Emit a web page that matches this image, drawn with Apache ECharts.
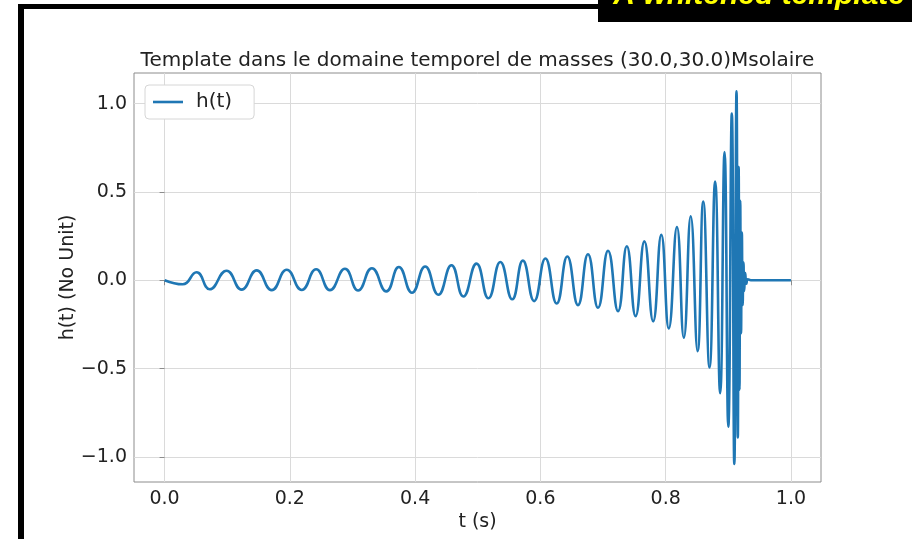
<!DOCTYPE html>
<html>
<head>
<meta charset="utf-8">
<script src="https://cdn.jsdelivr.net/npm/echarts@6/dist/echarts.min.js"></script>
<style>
html,body{margin:0;padding:0;background:#ffffff;}
#chart{width:912px;height:539px;}
</style>
</head>
<body>
<div id="chart"></div>
<script>
// Time (s) of the peaks, troughs and ringdown
const tValues = [0, 0.029, 0.051, 0.072, 0.099, 0.123, 0.147, 0.171, 0.195, 0.219,
  0.242, 0.264, 0.288, 0.309, 0.331, 0.354, 0.374, 0.395, 0.416, 0.437,
  0.458, 0.477, 0.498, 0.517, 0.536, 0.555, 0.572, 0.590, 0.608, 0.626,
  0.643, 0.660, 0.676, 0.692, 0.708, 0.724, 0.738, 0.752, 0.766, 0.780,
  0.793, 0.805, 0.818, 0.829, 0.840, 0.851, 0.860, 0.870, 0.879, 0.887,
  0.894, 0.900, 0.9056, 0.9096, 0.9131, 0.9152, 0.9165, 0.9178, 0.919, 0.9203,
  0.9216, 0.9229, 0.9242, 0.9254, 0.927, 0.9288, 0.9312, 0.936, 1.0];
// Strain h(t) at those times
const hValues = [0, -0.023, 0.045, -0.051, 0.054, -0.053, 0.056, -0.056, 0.059, -0.055,
  0.062, -0.056, 0.065, -0.058, 0.068, -0.063, 0.075, -0.071, 0.078, -0.082,
  0.085, -0.092, 0.094, -0.102, 0.103, -0.108, 0.111, -0.118, 0.123, -0.132,
  0.134, -0.141, 0.147, -0.156, 0.167, -0.175, 0.192, -0.203, 0.220, -0.232,
  0.257, -0.273, 0.301, -0.325, 0.362, -0.401, 0.446, -0.494, 0.559, -0.640,
  0.726, -0.829, 0.944, -1.040, 1.070, -0.89, 0.64, -0.62, 0.45, -0.30,
  0.27, -0.14, 0.10, -0.06, 0.04, -0.02, 0.005, 0, 0];
const xTicks = [0, 0.2, 0.4, 0.6, 0.8, 1.0];
const yTicks = [-1.0, -0.5, 0, 0.5, 1.0];
const seriesName = 'h(t)';
const titleText = 'Template dans le domaine temporel de masses (30.0,30.0)Msolaire';
const xLabel = 't (s)';
const yLabel = 'h(t) (No Unit)';
const bannerText = 'A whitened template';

const FONT = 'DejaVu Sans';
const fmt = v => (v < 0 ? '\u2212' : '') + Math.abs(v).toFixed(1);
const data = tValues.map((t, i) => [t, hValues[i]]);

const chart = echarts.init(document.getElementById('chart'), null, {renderer: 'canvas'});
chart.setOption({
  backgroundColor: '#ffffff',
  animation: false,
  grid: {left: 134, right: 91, top: 73, bottom: 57, show: true,
         borderColor: '#8c8c8c', borderWidth: 1, backgroundColor: 'transparent'},
  legend: {
    left: 145, top: 85, orient: 'vertical',
    data: [{name: seriesName, icon: 'rect'}],
    backgroundColor: '#ffffff', borderColor: '#d6d6d6', borderWidth: 1, borderRadius: 4,
    padding: [7, 22, 7, 8], itemWidth: 30, itemHeight: 2.6, itemGap: 5,
    textStyle: {fontFamily: FONT, fontSize: 20, color: '#222', padding: [0, 0, 0, 8]}
  },
  xAxis: {
    type: 'value', min: -0.0488, max: 1.048,
    name: xLabel, nameLocation: 'middle', nameGap: 31, nameMoveOverlap: false,
    nameTextStyle: {fontFamily: FONT, fontSize: 19, color: '#222'},
    axisLine: {show: false},
    axisTick: {show: true, length: 5, customValues: xTicks, lineStyle: {color: '#8c8c8c'}},
    axisLabel: {customValues: xTicks, formatter: fmt, margin: 8,
                fontFamily: FONT, fontSize: 19, color: '#222'},
    splitLine: {show: true, lineStyle: {color: '#dadada', width: 1}}
  },
  yAxis: {
    type: 'value', min: -1.142, max: 1.173,
    name: yLabel, nameLocation: 'middle', nameGap: 56, nameRotate: 90, nameMoveOverlap: false,
    nameTextStyle: {fontFamily: FONT, fontSize: 19, color: '#222'},
    axisLine: {show: false},
    axisTick: {show: true, length: 5, customValues: yTicks, lineStyle: {color: '#8c8c8c'}},
    axisLabel: {customValues: yTicks, formatter: fmt, margin: 7,
                fontFamily: FONT, fontSize: 19, color: '#222'},
    splitLine: {show: true, lineStyle: {color: '#dadada', width: 1}}
  },
  series: [{
    name: seriesName, type: 'line', data: data,
    symbol: 'none', smooth: 0.5,
    lineStyle: {color: '#1f77b4', width: 2.6},
    itemStyle: {color: '#1f77b4'}
  }],
  graphic: [
    {type: 'rect', shape: {x: 18, y: 4, width: 6, height: 540}, style: {fill: '#000'}},
    {type: 'rect', shape: {x: 18, y: 4, width: 590, height: 5}, style: {fill: '#000'}},
    {type: 'rect', shape: {x: 598, y: 0, width: 314, height: 22}, style: {fill: '#000'}},
    {type: 'text', x: 905, y: 11,
     style: {text: bannerText, fill: '#ffff00', font: 'italic bold 30px "Liberation Sans"',
             textAlign: 'right', textVerticalAlign: 'bottom'}},
    {type: 'text', x: 477.5, y: 61,
     style: {text: titleText, fill: '#222', font: '20px "DejaVu Sans"',
             textAlign: 'center', textVerticalAlign: 'middle'}}
  ]
});
</script>
</body>
</html>
